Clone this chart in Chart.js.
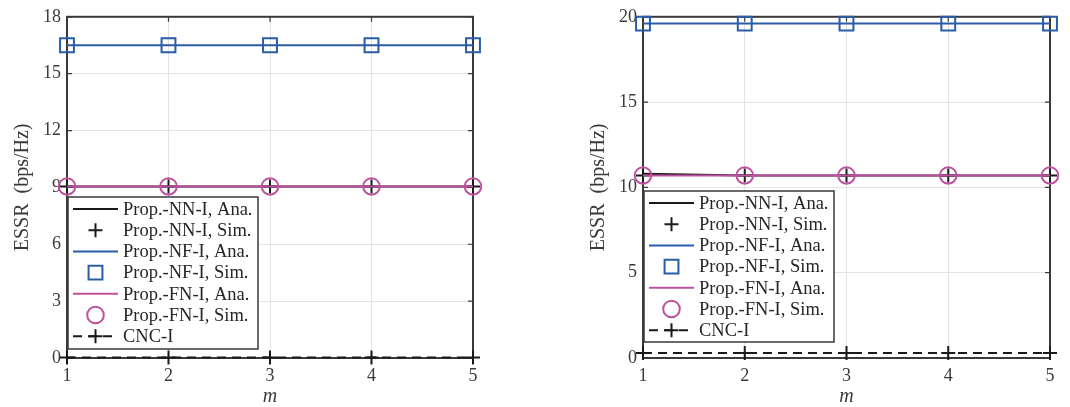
<!DOCTYPE html>
<html>
<head>
<meta charset="utf-8">
<script src="https://cdn.jsdelivr.net/npm/chart.js@4.4.1/dist/chart.umd.min.js"></script>
<style>
  body { margin: 0; background: #fff; }
  .panel { position: absolute; top: 0; }
</style>
</head>
<body>
<div class="panel" style="left:0px"><canvas id="graficoIzq" width="500" height="407"></canvas></div>
<div class="panel" style="left:576px"><canvas id="graficoDer" width="494" height="407"></canvas></div>
<script>
const valoresM = ['1', '2', '3', '4', '5'];//eje x (m)

//panel izquierdo
const nnAnaIzq = [9.05, 9.05, 9.05, 9.05, 9.05];
const nnSimIzq = [9.05, 9.05, 9.05, 9.05, 9.05];
const nfAnaIzq = [16.5, 16.5, 16.5, 16.5, 16.5];
const nfSimIzq = [16.5, 16.5, 16.5, 16.5, 16.5];
const fnAnaIzq = [9.05, 9.05, 9.05, 9.05, 9.05];
const fnSimIzq = [9.05, 9.05, 9.05, 9.05, 9.05];
const cncIzq = [0.02, 0.02, 0.02, 0.02, 0.02];
const ticksYIzq = [0, 3, 6, 9, 12, 15, 18];

//panel derecho
const nnAnaDer = [10.8, 10.7, 10.7, 10.7, 10.7];
const nnSimDer = [10.7, 10.7, 10.7, 10.7, 10.7];
const nfAnaDer = [19.6, 19.6, 19.6, 19.6, 19.6];
const nfSimDer = [19.6, 19.6, 19.6, 19.6, 19.6];
const fnAnaDer = [10.7, 10.7, 10.7, 10.7, 10.7];
const fnSimDer = [10.7, 10.7, 10.7, 10.7, 10.7];
const cncDer = [0.3, 0.3, 0.3, 0.3, 0.3];
const ticksYDer = [0, 5, 10, 15, 20];

const colorNegro = '#1a1a1a';
const colorAzul = '#2a5ca8';
const colorMagenta = '#bf4f9f';
const colorEjes = '#3a3a3a';
const fuente = '"Liberation Serif", "DejaVu Serif", serif';

//marco de los ejes con ticks hacia dentro (estilo matlab)
const marcoEjes = {
    id: 'marcoEjes',
    beforeDatasetsDraw(chart) {
        const {ctx, chartArea: a} = chart;
        const ex = chart.scales.x, ey = chart.scales.y;
        ctx.save();
        ctx.strokeStyle = colorEjes;
        ctx.lineWidth = 1.2;
        ctx.beginPath();
        ex.ticks.forEach((t, i) => {
            const px = ex.getPixelForTick(i);
            ctx.moveTo(px, a.bottom); ctx.lineTo(px, a.bottom - 5);
            ctx.moveTo(px, a.top); ctx.lineTo(px, a.top + 5);
        });
        ey.ticks.forEach((t, i) => {
            const py = ey.getPixelForTick(i);
            ctx.moveTo(a.left, py); ctx.lineTo(a.left + 5, py);
            ctx.moveTo(a.right, py); ctx.lineTo(a.right - 5, py);
        });
        ctx.stroke();
        ctx.lineWidth = 2;
        ctx.strokeRect(a.left, a.top, a.width, a.height);
        ctx.restore();
    }
};

//leyenda dentro del area de datos
const leyendaInterna = {
    id: 'leyendaInterna',
    afterDraw(chart, args, opts) {
        const {ctx, chartArea: a} = chart;
        const x0 = a.left + opts.izquierda;
        const y0 = a.bottom - opts.abajo - opts.alto;
        ctx.save();
        ctx.fillStyle = '#fff';
        ctx.fillRect(x0, y0, opts.ancho, opts.alto);
        ctx.strokeStyle = colorEjes;
        ctx.lineWidth = 1.5;
        ctx.strokeRect(x0, y0, opts.ancho, opts.alto);
        chart.data.datasets.forEach((ds, i) => {
            const y = y0 + 12 + i * 21.2;
            if (ds.showLine !== false) {
                ctx.save();
                ctx.strokeStyle = ds.borderColor;
                ctx.lineWidth = ds.borderWidth;
                ctx.setLineDash(ds.borderDash || []);
                ctx.beginPath();
                ctx.moveTo(x0 + 5, y);
                ctx.lineTo(x0 + 50, y);
                ctx.stroke();
                ctx.restore();
            }
            if (ds.pointRadius > 0) {
                ctx.save();
                ctx.strokeStyle = ds.pointBorderColor;
                ctx.fillStyle = 'rgba(0,0,0,0)';
                ctx.lineWidth = ds.pointBorderWidth;
                Chart.helpers.drawPoint(ctx, {pointStyle: ds.pointStyle, radius: ds.pointRadius, rotation: 0, borderWidth: ds.pointBorderWidth}, x0 + 27.5, y);
                ctx.restore();
            }
            ctx.fillStyle = '#262626';
            ctx.font = '18.5px ' + fuente;
            ctx.textBaseline = 'middle';
            ctx.fillText(ds.label, x0 + 55, y + 1);
        });
        ctx.restore();
    }
};

function linea(etiqueta, datos, color, discontinua) {
    return {
        label: etiqueta, data: datos, borderColor: color, borderWidth: 2,
        borderDash: discontinua ? [9, 6] : [], pointRadius: 0, showLine: true,
        clip: false, tension: 0
    };
}

function marcadores(etiqueta, datos, color, estilo, radio) {
    return {
        label: etiqueta, data: datos, showLine: false, borderColor: color,
        pointStyle: estilo, pointRadius: radio, pointHoverRadius: radio,
        pointBorderColor: color, pointBackgroundColor: 'rgba(0,0,0,0)',
        pointBorderWidth: 2, clip: false
    };
}

function crearGrafico(idCanvas, series, ticksY, maxY, padDer, leyenda) {
    const cnc = linea('CNC-I', series[6], colorNegro, true);
    cnc.pointStyle = 'cross';
    cnc.pointRadius = 7;
    cnc.pointHoverRadius = 7;
    cnc.pointBorderColor = colorNegro;
    cnc.pointBorderWidth = 2;
    return new Chart(document.getElementById(idCanvas), {
        type: 'line',
        data: {
            labels: valoresM,
            datasets: [
                linea('Prop.-NN-I, Ana.', series[0], colorNegro, false),
                marcadores('Prop.-NN-I, Sim.', series[1], colorNegro, 'cross', 7),
                linea('Prop.-NF-I, Ana.', series[2], colorAzul, false),
                marcadores('Prop.-NF-I, Sim.', series[3], colorAzul, 'rect', 9.8),
                linea('Prop.-FN-I, Ana.', series[4], colorMagenta, false),
                marcadores('Prop.-FN-I, Sim.', series[5], colorMagenta, 'circle', 8.3),
                cnc
            ].map((d, i) => Object.assign(d, {order: 7 - i}))
        },
        options: {
            responsive: false,
            animation: false,
            layout: {padding: {left: 0, right: padDer, top: 16, bottom: 0}},
            scales: {
                x: {
                    offset: false,
                    grid: {color: '#e3e3e3', lineWidth: 1, drawTicks: false},
                    border: {display: false},
                    ticks: {color: colorEjes, padding: 7, font: {family: fuente, size: 18}, maxRotation: 0},
                    title: {display: true, text: 'm', color: colorEjes, padding: {top: 0, bottom: 0},
                        font: {family: fuente, size: 20, style: 'italic', lineHeight: 1}},
                    afterFit: eje => { eje.height = 49; }
                },
                y: {
                    min: 0, max: maxY,
                    grid: {color: '#e3e3e3', lineWidth: 1, drawTicks: false},
                    border: {display: false},
                    afterBuildTicks: eje => { eje.ticks = ticksY.map(v => ({value: v})); },
                    ticks: {color: colorEjes, padding: 6, font: {family: fuente, size: 18}},
                    title: {display: true, text: 'ESSR  (bps/Hz)', color: colorEjes, padding: {top: 11, bottom: 0},
                        font: {family: fuente, size: 20}},
                    afterFit: eje => { eje.width = 67; }
                }
            },
            plugins: {
                legend: {display: false},
                tooltip: {enabled: false},
                leyendaInterna: leyenda
            }
        },
        plugins: [marcoEjes, leyendaInterna]
    });
}

crearGrafico('graficoIzq',
    [nnAnaIzq, nnSimIzq, nfAnaIzq, nfSimIzq, fnAnaIzq, fnSimIzq, cncIzq],
    ticksYIzq, 18, 27,
    {izquierda: 1, abajo: 9, ancho: 190, alto: 152});

crearGrafico('graficoDer',
    [nnAnaDer, nnSimDer, nfAnaDer, nfSimDer, fnAnaDer, fnSimDer, cncDer],
    ticksYDer, 20, 20,
    {izquierda: 1, abajo: 16, ancho: 190, alto: 151});
</script>
</body>
</html>
